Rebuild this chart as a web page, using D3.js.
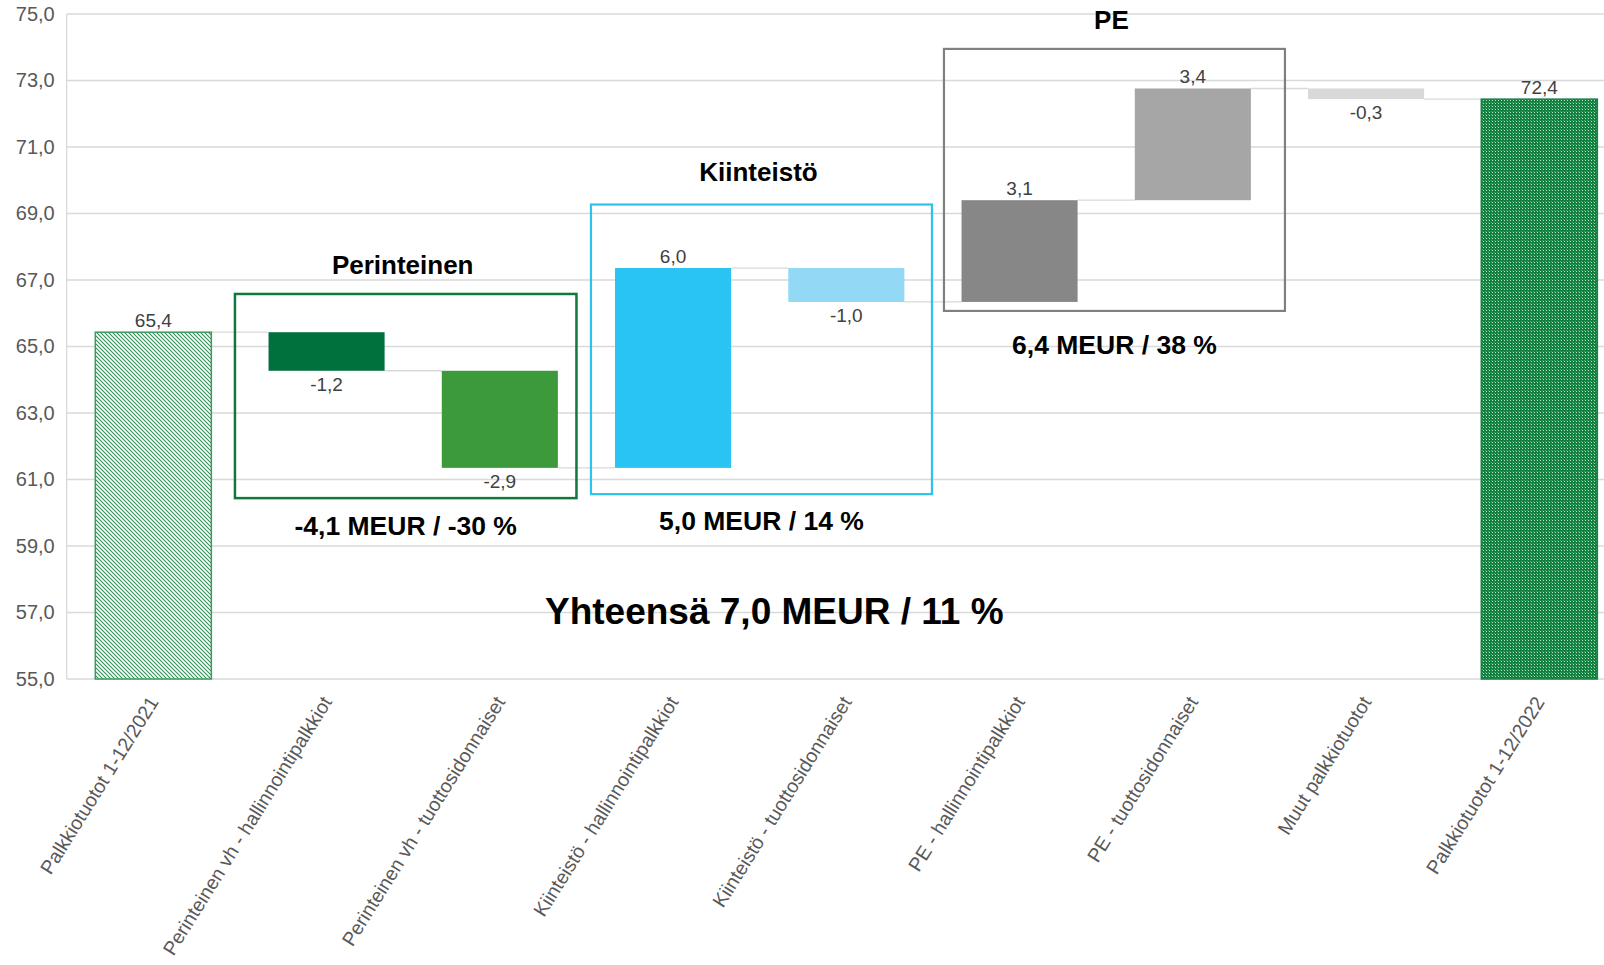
<!DOCTYPE html>
<html>
<head>
<meta charset="utf-8">
<script src="https://cdn.jsdelivr.net/npm/d3@7"></script>
<style>
  html, body { margin: 0; padding: 0; background: #fff; }
  svg { display: block; font-family: "Liberation Sans", Arial, sans-serif; }
</style>
</head>
<body>
<div id="chart-container"></div>
<script>
// chart data
const categories = [
  'Palkkiotuotot 1-12/2021',
  'Perinteinen vh - hallinnointipalkkiot',
  'Perinteinen vh - tuottosidonnaiset',
  'Kiinteistö - hallinnointipalkkiot',
  'Kiinteistö - tuottosidonnaiset',
  'PE - hallinnointipalkkiot',
  'PE - tuottosidonnaiset',
  'Muut palkkiotuotot',
  'Palkkiotuotot 1-12/2022'
];
const startValue = 65.43;
const deltas = [-1.16, -2.92, 6.01, -1.02, 3.06, 3.36, -0.32];
const endValue = 72.44;
const yTicks = [55, 57, 59, 61, 63, 65, 67, 69, 71, 73, 75];

const groupTitles = ['Perinteinen', 'Kiinteistö', 'PE'];
const groupTotals = ['-4,1 MEUR / -30 %', '5,0 MEUR / 14 %', '6,4 MEUR / 38 %'];
const groupFirst = [1, 3, 5];
const groupLast = [2, 4, 6];
const groupTop = [66.58, 69.27, 73.95];
const groupBottom = [60.44, 60.56, 66.07];
const totalText = 'Yhteensä 7,0 MEUR / 11 %';

// styles
const barFills = ['url(#hatch)', '#00703c', '#3c9a3a', '#29c4f2', '#93d9f5', '#878787', '#a6a6a6', '#d9d9d9', 'url(#dots)'];
const groupColors = ['#10783c', '#2cc3f0', '#808080'];
const groupPadL = [-5, 4.5, 11];
const groupPadR = [-10, -1, 5.5];
const titleLift = [20, 24, 20];
const totalDrop = [37, 36, 43];

const fi = d3.formatLocale({ decimal: ',', thousands: ' ', grouping: [3], currency: ['', ' €'], minus: '-' });
const fmt = fi.format('.1f');

const W = 1604, H = 965;
const margin = { top: 14, left: 66.7 };
const plotH = 665;
const step = 173.25;

const svg = d3.select('#chart-container').append('svg')
  .attr('width', W).attr('height', H);

const defs = svg.append('defs');
const hatch = defs.append('pattern').attr('id', 'hatch')
  .attr('patternUnits', 'userSpaceOnUse').attr('width', 4).attr('height', 4);
hatch.append('rect').attr('width', 4).attr('height', 4).attr('fill', '#ffffff');
hatch.append('path').attr('d', 'M-1,-1 L5,5 M-1,3 L1,5 M3,-1 L5,1')
  .attr('stroke', '#2f8f55').attr('stroke-width', 1.1);

const dots = defs.append('pattern').attr('id', 'dots')
  .attr('patternUnits', 'userSpaceOnUse').attr('width', 3).attr('height', 3);
dots.append('rect').attr('width', 3).attr('height', 3).attr('fill', '#11803f');
dots.append('rect').attr('x', 1).attr('y', 1).attr('width', 1).attr('height', 1).attr('fill', '#b5e0c6');
dots.append('rect').attr('x', 0).attr('y', 0).attr('width', 1).attr('height', 1).attr('fill', '#4fa873');

// scales
const x = d3.scaleBand()
  .domain(categories)
  .range([margin.left, margin.left + step * categories.length])
  .paddingInner(0.33).paddingOuter(0.165);

const y = d3.scaleLinear()
  .domain([55, 75])
  .range([margin.top + plotH, margin.top]);

// build waterfall segments
const bars = [];
bars.push({ cat: categories[0], lo: 55, hi: startValue, val: startValue, end: startValue });
let run = startValue;
deltas.forEach((d, i) => {
  const from = run;
  run = run + d;
  bars.push({ cat: categories[i + 1], lo: Math.min(from, run), hi: Math.max(from, run), val: d, end: run });
});
bars.push({ cat: categories[8], lo: 55, hi: endValue, val: endValue, end: endValue });

// gridlines
svg.append('g').selectAll('line').data(yTicks).enter().append('line')
  .attr('x1', margin.left).attr('x2', W)
  .attr('y1', d => y(d)).attr('y2', d => y(d))
  .attr('stroke', '#d9d9d9').attr('stroke-width', 1.3);

svg.append('line')
  .attr('x1', margin.left).attr('x2', margin.left)
  .attr('y1', y(75)).attr('y2', y(55))
  .attr('stroke', '#d9d9d9').attr('stroke-width', 1.3);

// y axis labels
const yAxis = svg.append('g')
  .attr('transform', `translate(${margin.left - 12},0)`)
  .call(d3.axisLeft(y).tickValues(yTicks).tickFormat(fmt).tickSize(0).tickPadding(0));
yAxis.select('.domain').remove();
yAxis.selectAll('text').attr('fill', '#595959').attr('font-size', 20)
  .attr('font-family', '"Liberation Sans", Arial, sans-serif');

// connectors
svg.append('g').selectAll('line').data(bars.slice(0, -1)).enter().append('line')
  .attr('x1', d => x(d.cat) + x.bandwidth())
  .attr('x2', (d, i) => x(bars[i + 1].cat))
  .attr('y1', d => y(d.end)).attr('y2', d => y(d.end))
  .attr('stroke', '#d9d9d9').attr('stroke-width', 1.3);

// bars
svg.append('g').selectAll('rect').data(bars).enter().append('rect')
  .attr('x', d => x(d.cat))
  .attr('y', d => y(d.hi))
  .attr('width', x.bandwidth())
  .attr('height', d => y(d.lo) - y(d.hi))
  .attr('fill', (d, i) => barFills[i])
  .attr('stroke', (d, i) => i === 0 ? '#3b9a5f' : (i === 8 ? '#1b8048' : 'none'))
  .attr('stroke-width', 1.5);

// value labels
svg.append('g').selectAll('text').data(bars).enter().append('text')
  .attr('x', d => x(d.cat) + x.bandwidth() / 2)
  .attr('y', d => d.val >= 0 ? y(d.hi) - 5 : y(d.lo) + 20)
  .attr('text-anchor', 'middle')
  .attr('font-size', 19)
  .attr('fill', '#404040')
  .text(d => fmt(d.val));

// category labels
svg.append('g').selectAll('text').data(categories).enter().append('text')
  .attr('transform', d => `translate(${x(d) + x.bandwidth() / 2 + 6},${y(55) + 23}) rotate(-58)`)
  .attr('text-anchor', 'end')
  .attr('font-size', 19.5)
  .attr('fill', '#595959')
  .text(d => d);

// group boxes
groupTitles.forEach((t, i) => {
  const gap = (x.step() - x.bandwidth()) / 2;
  const x0 = x(categories[groupFirst[i]]) - gap + groupPadL[i];
  const x1 = x(categories[groupLast[i]]) + x.bandwidth() + gap + groupPadR[i];
  const y0 = y(groupTop[i]);
  const y1 = y(groupBottom[i]);
  svg.append('rect')
    .attr('x', x0).attr('y', y0)
    .attr('width', x1 - x0).attr('height', y1 - y0)
    .attr('fill', 'none')
    .attr('stroke', groupColors[i])
    .attr('stroke-width', i === 0 ? 2.5 : 2.2);
  svg.append('text')
    .attr('x', (x0 + x1) / 2 - 3).attr('y', y0 - titleLift[i])
    .attr('text-anchor', 'middle')
    .attr('font-size', 26).attr('font-weight', 'bold').attr('fill', '#000')
    .text(t);
  svg.append('text')
    .attr('x', (x0 + x1) / 2).attr('y', y1 + totalDrop[i])
    .attr('text-anchor', 'middle')
    .attr('font-size', 26.5).attr('font-weight', 'bold').attr('fill', '#000')
    .text(groupTotals[i]);
});

// overall total
svg.append('text')
  .attr('x', (x(categories[3]) + x(categories[5])) / 2 - 14)
  .attr('y', y(57) + 11)
  .attr('text-anchor', 'middle')
  .attr('font-size', 37).attr('font-weight', 'bold').attr('fill', '#000')
  .text(totalText);
</script>
</body>
</html>
